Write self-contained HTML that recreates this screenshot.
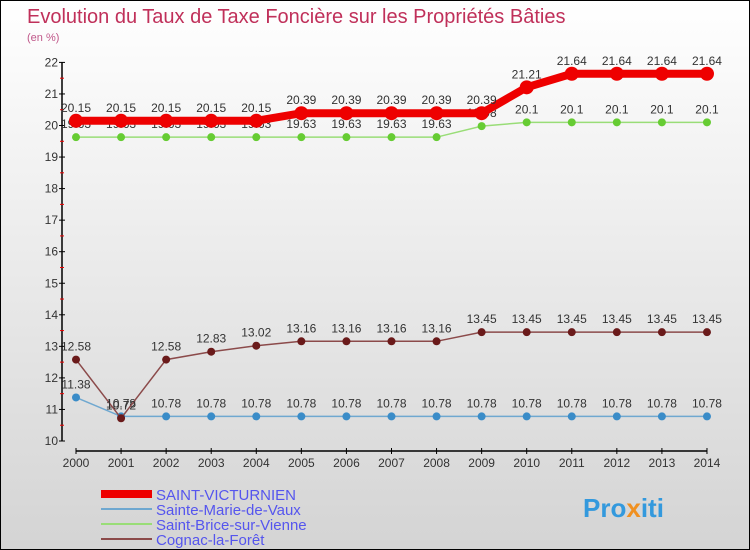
<!DOCTYPE html>
<html><head><meta charset="utf-8"><style>
body{margin:0;}
#c{width:750px;height:550px;position:relative;box-sizing:border-box;border:1px solid #000;background:linear-gradient(#fff,#d4d4d4);overflow:hidden;font-family:"Liberation Sans",sans-serif;}
</style></head><body>
<div id="c">
<svg id="s" width="750" height="550" xmlns="http://www.w3.org/2000/svg">
<text x="26" y="22" font-size="20" fill="#c0305a">Evolution du Taux de Taxe Foncière sur les Propriétés Bâties</text>
<text x="26" y="40" font-size="11" fill="#c0588a">(en %)</text>
<g id="axes"></g><g id="series"></g>
<g>
<rect x="100" y="489" width="51" height="8" fill="#e00"/>
<line x1="100" y1="508" x2="151" y2="508" stroke="#6fa8d0" stroke-width="2"/>
<line x1="100" y1="523" x2="151" y2="523" stroke="#99dd77" stroke-width="2"/>
<line x1="100" y1="538" x2="151" y2="538" stroke="#8b4a4a" stroke-width="2"/>
<text x="155" y="499" font-size="15" fill="#5555ee">SAINT-VICTURNIEN</text>
<text x="155" y="514" font-size="15" fill="#5555ee">Sainte-Marie-de-Vaux</text>
<text x="155" y="529" font-size="15" fill="#5555ee">Saint-Brice-sur-Vienne</text>
<text x="155" y="544" font-size="15" fill="#5555ee">Cognac-la-Forêt</text>
</g>
<text x="582" y="516" font-size="26" font-weight="bold" fill="#3399dd">Pro<tspan fill="#f09020">x</tspan>iti</text>
</svg></div>
<script>
const years=[2000,2001,2002,2003,2004,2005,2006,2007,2008,2009,2010,2011,2012,2013,2014];
const sv=[20.15,20.15,20.15,20.15,20.15,20.39,20.39,20.39,20.39,20.39,21.21,21.64,21.64,21.64,21.64];
const smv=[11.38,10.78,10.78,10.78,10.78,10.78,10.78,10.78,10.78,10.78,10.78,10.78,10.78,10.78,10.78];
const sbv=[19.63,19.63,19.63,19.63,19.63,19.63,19.63,19.63,19.63,19.98,20.1,20.1,20.1,20.1,20.1];
const cog=[12.58,10.72,12.58,12.83,13.02,13.16,13.16,13.16,13.16,13.45,13.45,13.45,13.45,13.45,13.45];
const yTicks=[10,11,12,13,14,15,16,17,18,19,20,21,22];
const NS="http://www.w3.org/2000/svg";
const X=i=>75+i*45.07, Y=v=>440-(v-10)*31.55;
function mk(t,a,p){const e=document.createElementNS(NS,t);for(const k in a)e.setAttribute(k,a[k]);p.appendChild(e);return e;}
const ax=document.getElementById('axes');
let l=mk('line',{x1:61,y1:Y(22),x2:61,y2:440,stroke:'#000','stroke-width':1.5},ax);

l=mk('line',{x1:75,y1:450,x2:706,y2:450,stroke:'#000','stroke-width':1.5},ax);

yTicks.forEach(v=>{
 mk('line',{x1:58,y1:Y(v),x2:64,y2:Y(v),stroke:'#000'},ax);
 if(v<22)mk('line',{x1:59,y1:Y(v+0.5),x2:63,y2:Y(v+0.5),stroke:'#e00'},ax);
 const t=mk('text',{x:57,y:Y(v)+4,'text-anchor':'end','font-size':12,fill:'#333'},ax);t.textContent=v;
 
});
years.forEach((y,i)=>{
 mk('line',{x1:X(i),y1:447,x2:X(i),y2:453,stroke:'#000'},ax);
 const t=mk('text',{x:X(i),y:466,'text-anchor':'middle','font-size':12,fill:'#333'},ax);t.textContent=y;
 
});
const sg=document.getElementById('series');
function series(name,d,col,w,r,mcol,lab){
 const g=mk('g',{},sg);
 
 const p=mk('polyline',{points:d.map((v,i)=>X(i)+','+Y(v)).join(' '),fill:'none',stroke:col,'stroke-width':w},g);
 
 d.forEach((v,i)=>{
  const c=mk('circle',{cx:X(i),cy:Y(v),r:r,fill:mcol},g);
  
  if(lab){const t=mk('text',{x:X(i),y:Y(v)-9,'text-anchor':'middle','font-size':12,fill:'#333'},g);t.textContent=v;
  }
 });
}
series('sainte-marie-de-vaux',smv,'#6fa8d0',1.5,4,'#3a8cc8',true);
series('saint-brice-sur-vienne',sbv,'#99dd77',1.5,4,'#66cc33',true);
series('cognac-la-foret',cog,'#8b4a4a',1.5,4,'#6a1a1a',true);
series('saint-victurnien',sv,'#e00',8,7,'#e00',true);
</script>
</body></html>
